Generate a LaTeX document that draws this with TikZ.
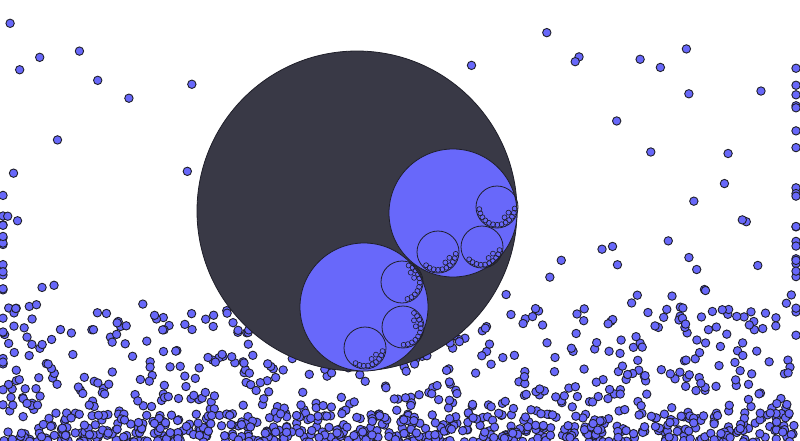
\documentclass[tikz,border=0pt]{standalone}
\definecolor{dotblue}{HTML}{6868FA}
\definecolor{shellgray}{HTML}{393946}
\definecolor{rimgray}{HTML}{1F1F29}
\tikzset{
	ball/.style={fill=dotblue, draw=rimgray, line width=0.9pt},
	shell/.style={fill=shellgray, draw=rimgray, line width=0.8pt},
	bubble/.style={fill=dotblue, draw=rimgray, line width=0.8pt},
	subbubble/.style={draw=rimgray, line width=0.8pt},
	grain/.style={draw=rimgray, line width=0.6pt}
}
\begin{document}
\begin{tikzpicture}[x=1pt, y=-1pt]
	\useasboundingbox (0,0) rectangle (800,440);
	\clip (0,0) rectangle (800,440);
	
	%% settled layer of balls
	\pgfmathsetseed{11}
	\foreach \i in {1,...,680}{
		\pgfmathsetmacro\bx{4+792*rnd}
		\pgfmathsetmacro\by{442-135*rnd^1.7}
		\draw[ball] (\bx,\by) circle (4.2);
	}
	%% packed floor
	\foreach \i in {1,...,260}{
		\pgfmathsetmacro\bx{4+792*rnd}
		\pgfmathsetmacro\by{443-30*rnd}
		\draw[ball] (\bx,\by) circle (4.2);
	}
	%% balls along the side walls
	\foreach \i in {1,...,22}{
		\pgfmathsetmacro\by{190+230*rnd}
		\draw[ball] (3,\by) circle (4.2);
		\pgfmathsetmacro\by{60+300*rnd}
		\draw[ball] (796,\by) circle (4.2);
	}
	%% balls still falling
	\foreach \i in {1,...,100}{
		\pgfmathsetmacro\bx{3+794*rnd}
		\pgfmathsetmacro\by{330-320*rnd^2.2}
		\draw[ball] (\bx,\by) circle (4.2);
	}
	
	%% outer shell
	\draw[shell] (357,211) circle (160);
	
	%% two bubbles
	\draw[bubble] (453,213) circle (64);
	\draw[bubble] (364,307) circle (64);
	
	%% sub-bubbles with their grains
	\foreach \cx/\cy/\a/\n in {497/207/5/12, 438/252/6/9, 482/247/10/9,
		402/282/-68/10, 403/327/-52/10, 365/348/10/8}{
		\draw[subbubble] (\cx,\cy) circle (21);
		\foreach \k in {0,...,\n}{
			\pgfmathsetmacro\ang{\a+14*\k}
			\draw[grain] ([shift={(\cx,\cy)}]\ang:17.8) circle (2.5);
		}
		\foreach \k in {1,3}{
			\pgfmathsetmacro\ang{\a+14*\k+7}
			\draw[grain] ([shift={(\cx,\cy)}]\ang:12.8) circle (2.5);
		}
	}
\end{tikzpicture}
\end{document}
